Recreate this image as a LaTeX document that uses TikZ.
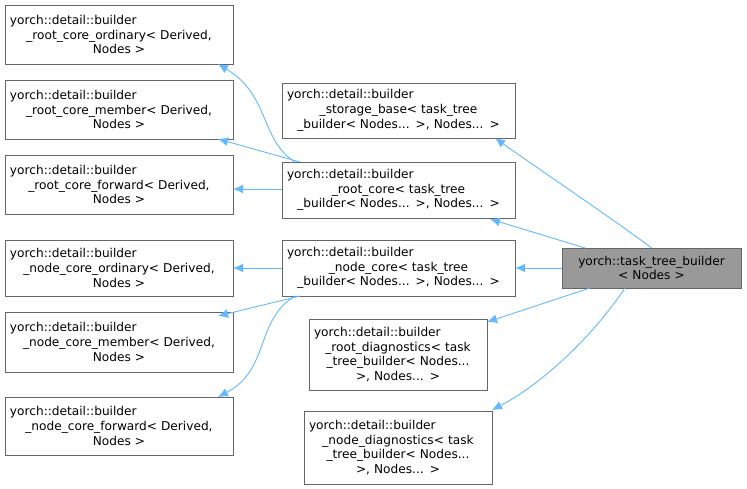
\documentclass[tikz,border=0pt]{standalone}
\usepackage{fontspec}
\setmainfont{DejaVu Sans}
\usetikzlibrary{arrows.meta}
\definecolor{edge}{HTML}{63B8FF}
\definecolor{bord}{HTML}{666666}
\tikzset{
 cls/.style={draw=bord,fill=white,align=center,inner xsep=5bp,inner ysep=0pt,font=\fontsize{12.2}{14.8}\selectfont},
 cur/.style={cls,fill=black!40},
 inh/.style={draw=edge,line width=0.9bp,-{Latex[length=10bp,width=9bp]}}
}
\newcommand\fl[1]{\makebox[\linewidth][l]{#1}}
\begin{document}
\begin{tikzpicture}[x=1bp,y=-1bp]
\useasboundingbox (0,0) rectangle (747,489);
\newcommand\bx[6]{\node[#6,text width=#3 bp - 10bp,minimum height=#4 bp] (#1) at (#2) {#5};}
\bx{A1}{119,34.5}{228}{59}{\fl{yorch::detail::builder}\\\_root\_core\_ordinary< Derived,\\Nodes >}{cls}
\bx{A2}{119,109.5}{228}{59}{\fl{yorch::detail::builder}\\\_root\_core\_member< Derived,\\Nodes >}{cls}
\bx{A3}{119,184.5}{228}{59}{\fl{yorch::detail::builder}\\\_root\_core\_forward< Derived,\\Nodes >}{cls}
\bx{A4}{119,268}{228}{56}{\fl{yorch::detail::builder}\\\_node\_core\_ordinary< Derived,\\Nodes >}{cls}
\bx{A5}{119,342}{228}{60}{\fl{yorch::detail::builder}\\\_node\_core\_member< Derived,\\Nodes >}{cls}
\bx{A6}{119,426}{228}{58}{\fl{yorch::detail::builder}\\\_node\_core\_forward< Derived,\\Nodes >}{cls}
\bx{M1}{398.5,110.5}{233}{55}{\fl{yorch::detail::builder}\\\_storage\_base< task\_tree\\\_builder< Nodes... >, Nodes... >}{cls}
\bx{M2}{398.5,190}{233}{56}{\fl{yorch::detail::builder}\\\_root\_core< task\_tree\\\_builder< Nodes... >, Nodes... >}{cls}
\bx{M3}{398.5,268}{233}{56}{\fl{yorch::detail::builder}\\\_node\_core< task\_tree\\\_builder< Nodes... >, Nodes... >}{cls}
\bx{M4}{398,354.5}{178}{71}{\fl{yorch::detail::builder}\\\_root\_diagnostics< task\\\_tree\_builder< Nodes...\\>, Nodes... >}{cls}
\bx{M5}{398,447.5}{188}{73}{\fl{yorch::detail::builder}\\\_node\_diagnostics< task\\\_tree\_builder< Nodes...\\>, Nodes... >}{cls}
\bx{R}{651.5,268}{179}{40}{yorch::task\_tree\_builder\\< Nodes >}{cur}
\coordinate (m1b) at (495,138);
\draw[inh] (R.north) .. controls (600,210) and (540,170) .. (m1b);
\draw[inh] (585,248) -- (490,219);
\draw[inh] (R.west) -- (M3.east);
\draw[inh] (590,288) -- (487,322);
\draw[inh] (625,288) .. controls (590,340) and (540,385) .. (492,410);
\draw[inh] (295,162) .. controls (260,140) and (270,95) .. (218,64);
\draw[inh] (300,162) -- (218,139);
\draw[inh] (M2.west |- 0,189) -- (A3.east |- 0,189);
\draw[inh] (M3.west) -- (A4.east);
\draw[inh] (300,296) -- (218,316);
\draw[inh] (295,296) .. controls (255,320) and (270,370) .. (218,397);
\end{tikzpicture}
\end{document}
